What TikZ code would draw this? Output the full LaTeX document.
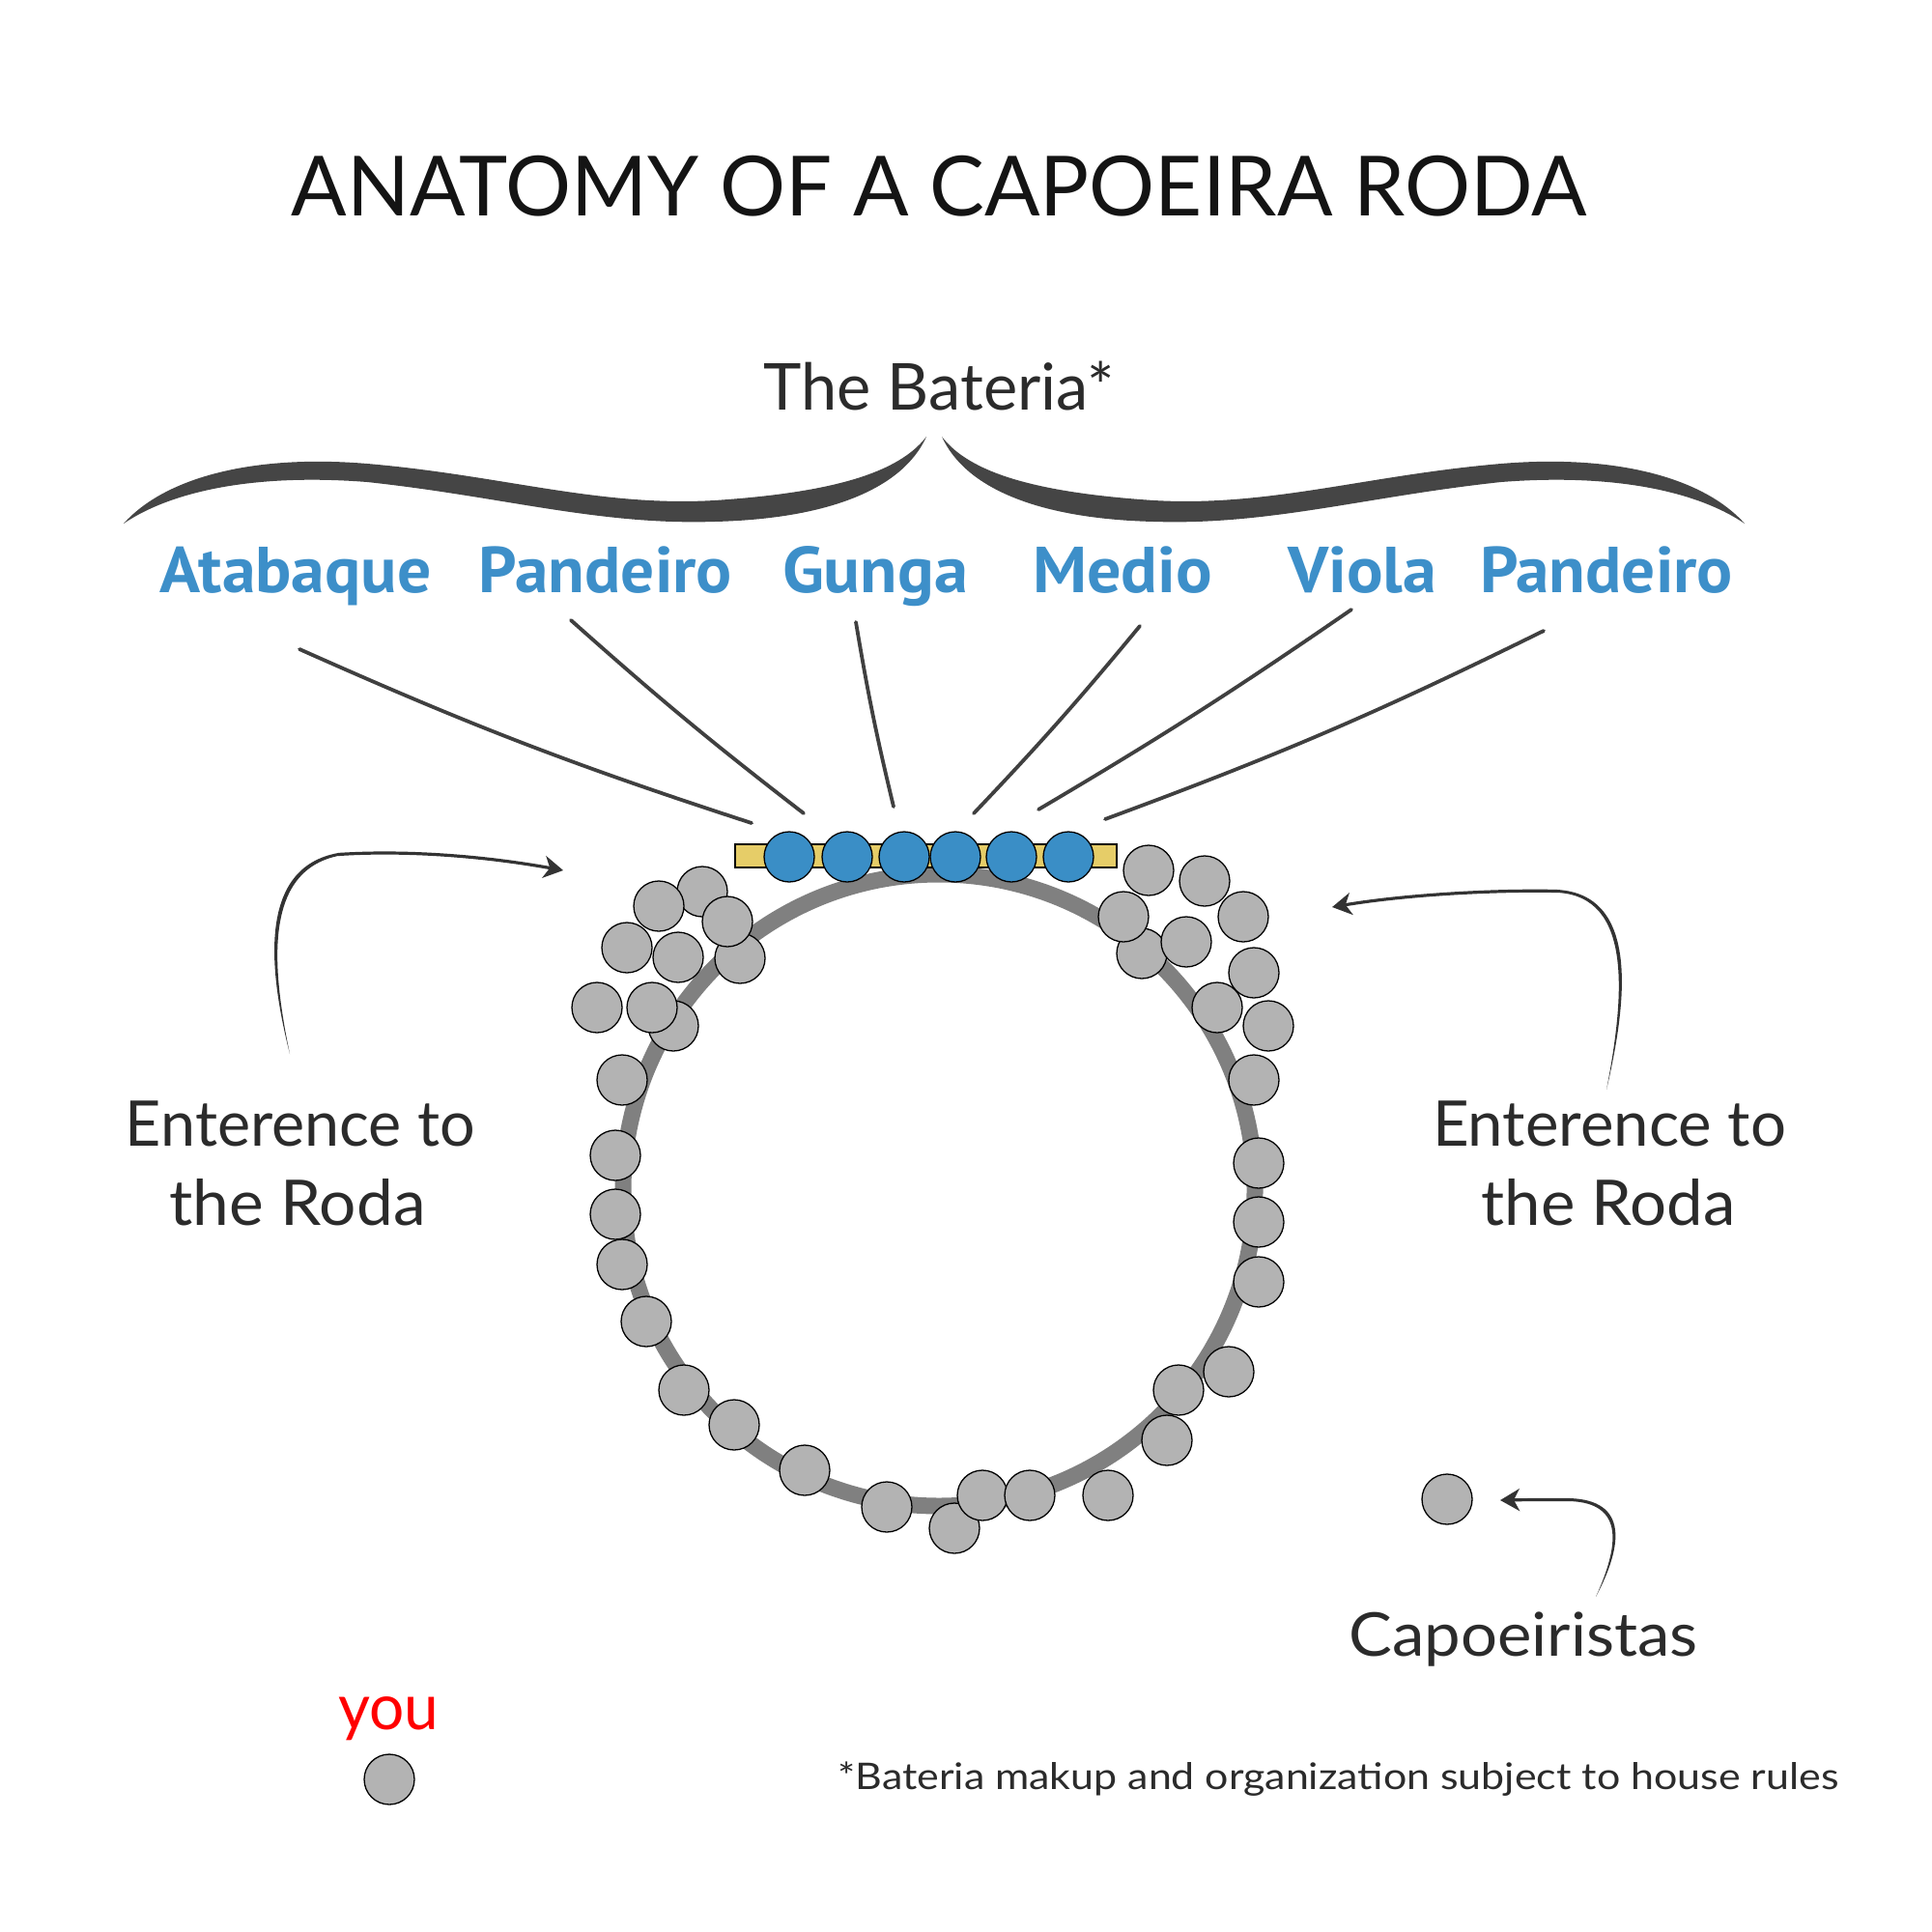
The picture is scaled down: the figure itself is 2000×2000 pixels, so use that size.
\documentclass[tikz,border=0pt]{standalone}
\usepackage{fontspec}
\usepackage{graphicx}
\setmainfont{Lato}
\newfontfamily\lblfont{PT Sans}
\usetikzlibrary{arrows.meta}
\definecolor{txt}{HTML}{2B2B2B}
\definecolor{lblblue}{HTML}{3D8FC9}
\definecolor{drumblue}{HTML}{3A8EC6}
\definecolor{baryel}{HTML}{E6CD68}
\definecolor{pgray}{HTML}{B3B3B3}
\definecolor{ringgray}{HTML}{808080}
\definecolor{inkgray}{HTML}{404040}
\definecolor{bracecol}{HTML}{454545}
\newcommand\fitw[2]{\resizebox{#1}{\height}{#2}}
\begin{document}
\begin{tikzpicture}[x=0.5pt,y=-0.5pt,
  person/.style={circle, draw=black, line width=0.65pt, fill=pgray, minimum size=26pt, inner sep=0pt},
  drummer/.style={person, fill=drumblue},
  txtnode/.style={anchor=base, inner sep=0pt, text=txt},
  instr/.style={anchor=base, inner sep=0pt, text=lblblue, font=\lblfont\bfseries\fontsize{33.6pt}{36pt}\selectfont},
  pencil/.style={draw=inkgray, line width=1.9pt, line cap=round},
  arrowline/.style={draw=inkgray!80!black, line width=1.6pt, -{Stealth[length=10pt,width=11.5pt,inset=3pt]}},
  taper/.style={fill=inkgray!80!black}
]
\fill[white] (0,0) rectangle (2000,2000);
\useasboundingbox (0,0) rectangle (2000,2000);

% title and headings
\node[txtnode, text=black!92] (title) at (972,224) {\fontsize{43pt}{43pt}\selectfont\fitw{670.5pt}{ANATOMY OF A CAPOEIRA RODA}};
\node[txtnode] (bateria) at (972,425) {\fontsize{33.5pt}{34pt}\selectfont\fitw{181.5pt}{The Bateria*}};

% brace
\fill[bracecol] (128,542) .. controls (170,495) and (260,470) .. (380,480) .. controls (520,492) and (620,525) .. (740,518) .. controls (860,510) and (930,490) .. (959,452) .. controls (935,505) and (860,537) .. (740,540) .. controls (620,544) and (520,514) .. (380,499) .. controls (265,490) and (178,508) .. (128,542) -- cycle;
\begin{scope}[shift={(1934,0)}, xscale=-1]
\fill[bracecol] (128,542) .. controls (170,495) and (260,470) .. (380,480) .. controls (520,492) and (620,525) .. (740,518) .. controls (860,510) and (930,490) .. (959,452) .. controls (935,505) and (860,537) .. (740,540) .. controls (620,544) and (520,514) .. (380,499) .. controls (265,490) and (178,508) .. (128,542) -- cycle;
\end{scope}

% instruments
\node[instr] (atabaque) at (306,613) {\fitw{140.5pt}{Atabaque}};
\node[instr] (pandeiroA) at (627,613) {\fitw{131pt}{Pandeiro}};
\node[instr] (gunga) at (906,613) {\fitw{96pt}{Gunga}};
\node[instr] (medio) at (1162,613) {\fitw{93pt}{Medio}};
\node[instr] (viola) at (1410,613) {\fitw{77pt}{Viola}};
\node[instr] (pandeiroB) at (1663,613) {\fitw{131pt}{Pandeiro}};

% pencil lines
\coordinate (p1a) at (310,672);  \coordinate (p1b) at (778,852);
\coordinate (p2a) at (591,642);  \coordinate (p2b) at (832,842);
\coordinate (p3a) at (886,644);  \coordinate (p3b) at (925,835);
\coordinate (p4a) at (1180,648); \coordinate (p4b) at (1008,842);
\coordinate (p5a) at (1399,631); \coordinate (p5b) at (1075,838);
\coordinate (p6a) at (1598,653); \coordinate (p6b) at (1144,848);
\draw[pencil] (p1a) to[bend right=3] (p1b);
\draw[pencil] (p2a) to[bend right=2] (p2b);
\draw[pencil] (p3a) to[bend right=2] (p3b);
\draw[pencil] (p4a) to[bend left=2] (p4b);
\draw[pencil] (p5a) to[bend left=2] (p5b);
\draw[pencil] (p6a) to[bend left=3] (p6b);

% the roda
\node[circle, draw=ringgray, line width=8.5pt, minimum size=327pt, inner sep=0pt] (roda) at (972,1232) {};

% bateria bar and drummers
\node[draw=black, line width=0.6pt, fill=baryel, minimum width=197.5pt, minimum height=12pt, inner sep=0pt] (bar) at (958.5,886) {};
\foreach \x [count=\i] in {817,877,936,989,1047,1106}
  \node[drummer] (d\i) at (\x,887) {};

% capoeiristas around the roda
\foreach \x/\y [count=\i] in {727/923, 682/938, 766/992, 753/954, 649/981, 702/991, 697/1062, 675/1043, 618/1043,
  644/1118, 637/1196, 637/1257, 644/1309, 669/1368, 708/1439, 760/1475, 833/1522, 918/1560, 988/1582, 1017/1548,
  1066/1548, 1147/1548, 1208/1491, 1220/1439, 1272/1420, 1303/1327, 1303/1265, 1303/1204, 1298/1118, 1313/1062,
  1260/1043, 1298/1007, 1287/949, 1247/912, 1189/901, 1182/987, 1228/975, 1163/949}
  \node[person] (g\i) at (\x,\y) {};

% entrance labels and arrows
\node[txtnode] (entL1) at (311,1186) {\fontsize{32.6pt}{33pt}\selectfont\fitw{181pt}{Enterence to}};
\node[txtnode] (entL2) at (308,1268) {\fontsize{32.6pt}{33pt}\selectfont\fitw{132.5pt}{the Roda}};
\node[txtnode] (entR1) at (1666,1186) {\fontsize{32.6pt}{33pt}\selectfont\fitw{183pt}{Enterence to}};
\node[txtnode] (entR2) at (1665,1268) {\fontsize{32.6pt}{33pt}\selectfont\fitw{131.5pt}{the Roda}};

\coordinate (lA) at (300,1091); \coordinate (lB) at (350,884.5); \coordinate (lC) at (583,901);
\fill[taper] (lA) .. controls (277,1000) and (268,898) .. (350,883) -- (350,886) .. controls (273,902) and (281,1000) .. (lA) -- cycle;
\draw[arrowline] (lB) .. controls (420,880) and (500,886) .. (lC);

\coordinate (rA) at (1663,1128); \coordinate (rB) at (1612,922.5); \coordinate (rC) at (1379,939);
\fill[taper] (rA) .. controls (1686,1030) and (1695,926) .. (1612,921) -- (1612,924) .. controls (1690,928) and (1682,1030) .. (rA) -- cycle;
\draw[arrowline] (rB) .. controls (1540,921) and (1450,927) .. (rC);

% legend
\node[person] (lone) at (1498,1552) {};
\node[txtnode] (capo) at (1577,1714) {\fontsize{31.3pt}{32pt}\selectfont\fitw{180.5pt}{Capoeiristas}};
\coordinate (cA) at (1652,1653); \coordinate (cB) at (1625,1552.5); \coordinate (cC) at (1553,1553);
\fill[taper] (cA) .. controls (1680,1600) and (1686,1553) .. (1625,1551) -- (1625,1554) .. controls (1682,1556) and (1676,1600) .. (cA) -- cycle;
\draw[arrowline] (cB) .. controls (1600,1552.5) and (1580,1552.5) .. (cC);

\node[txtnode, text=red] (you) at (402,1790) {\fontsize{33pt}{33pt}\selectfont\fitw{52pt}{you}};
\node[person] (youdot) at (403,1842) {};

\node[txtnode, anchor=base west] (note) at (867,1852) {\fontsize{19pt}{19pt}\selectfont\fitw{518pt}{*Bateria makup and organization subject to house rules}};
\end{tikzpicture}
\end{document}
